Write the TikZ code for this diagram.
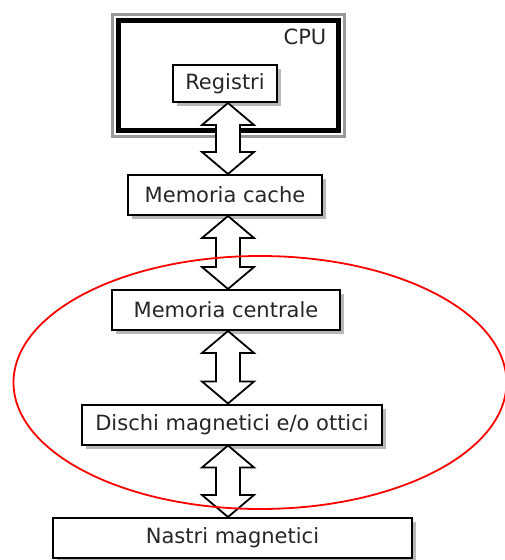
\documentclass[tikz,border=0pt]{standalone}
\usepackage{fontspec}
\setmainfont{DejaVu Sans}
\usepackage{tikz}
\usetikzlibrary{calc,shadows}

% hollow two-headed arrow between two stacked levels
\newcommand{\dualarrow}[2]{%
  \draw[bigarr] let \p1=(#1.south), \p2=(#2.north), \p3=(spine) in
    (\x3,\y1) -- (\x3+26pt,\y1-22pt) -- (\x3+12pt,\y1-22pt)
    -- (\x3+12pt,\y2+22pt) -- (\x3+26pt,\y2+22pt) -- (\x3,\y2)
    -- (\x3-26pt,\y2+22pt) -- (\x3-12pt,\y2+22pt)
    -- (\x3-12pt,\y1-22pt) -- (\x3-26pt,\y1-22pt) -- cycle;}

\begin{document}
\begin{tikzpicture}[
  x=1pt, y=-1pt,
  lvl/.style={draw, line width=2pt, fill=white, text=black!85,
              font=\fontsize{21}{25}\selectfont, minimum height=40pt,
              drop shadow={shadow xshift=4pt, shadow yshift=-4pt,
                           fill=black!35, opacity=0.8}},
  cpubox/.style={draw, line width=5pt, minimum width=220pt, minimum height=110pt},
  bigarr/.style={draw, line width=1.8pt, fill=white, line join=miter}
]
\useasboundingbox (0,0) rectangle (505,560);
\coordinate (spine) at (228,0);

\node[cpubox] (cpu) at (228,75) {};
\draw[black!40, line width=3pt]
  ([shift={(-3.5pt,3.5pt)}]cpu.north west) rectangle ([shift={(3.5pt,-3.5pt)}]cpu.south east);
\node[text=black!85, font=\fontsize{21}{25}\selectfont] (cpulbl) at (305,37) {CPU};

\node[lvl, minimum width=104pt, minimum height=37pt] (reg) at (225,83.5) {Registri};
\node[lvl, minimum width=194pt] (cache) at (225,195) {Memoria cache};
\node[lvl, minimum width=228pt] (ram) at (226,310) {Memoria centrale};
\node[lvl, minimum width=300pt] (disk) at (232,424.5) {Dischi magnetici e/o ottici};
\node[lvl, minimum width=359pt] (tape) at (232.5,538) {Nastri magnetici};

\foreach \a/\b in {reg/cache,cache/ram,ram/disk,disk/tape} \dualarrow{\a}{\b};

\draw[red, line width=1.8pt] (260,382.5) ellipse (246.5 and 126.5);
\end{tikzpicture}
\end{document}
